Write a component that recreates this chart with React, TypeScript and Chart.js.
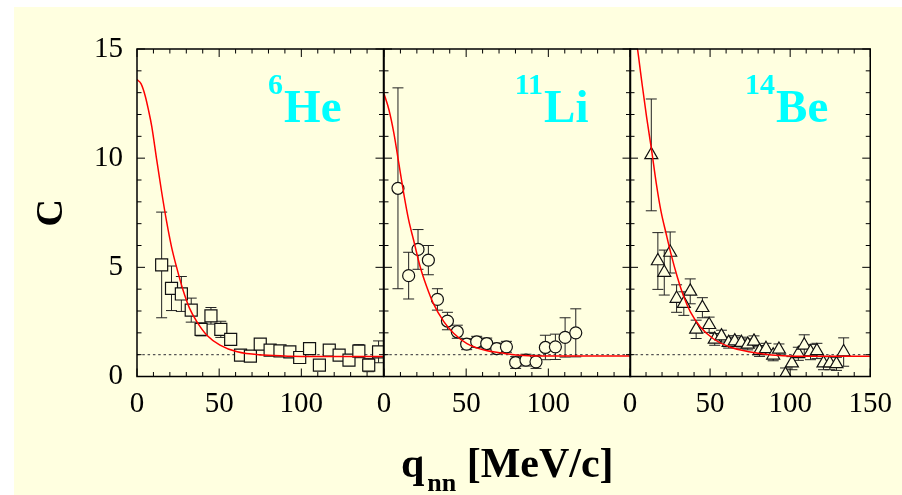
import React, { useEffect, useRef } from 'react';
import { Chart, registerables } from 'chart.js';

Chart.register(...registerables);

// ---------------- data ----------------
const X_MIN = 0;
const X_MAX = 150;
const Y_MIN = 0;
const Y_MAX = 15;
const X_TICK_LABELS = [0, 50, 100, 150];
const Y_TICK_LABELS = [0, 5, 10, 15];
const REFERENCE_LEVEL = 1;

const heQ = [15, 21, 27, 33, 39, 45, 51, 57, 63, 69, 75, 81, 87, 93, 99, 105, 111, 117, 123, 129, 135, 141, 147];
const heC = [5.11, 4.04, 3.78, 3.04, 2.16, 2.78, 2.16, 1.7, 0.98, 0.93, 1.48, 1.21, 1.17, 1.13, 0.87, 1.28, 0.52, 1.21, 0.98, 0.75, 1.16, 0.52, 1.13];
const heErr = [2.42, 1.02, 0.8, 0.55, 0.3, 0.38, 0.37, 0.25, 0.2, 0.2, 0.2, 0.2, 0.2, 0.2, 0.2, 0.2, 0.2, 0.2, 0.2, 0.25, 0.3, 0.3, 0.5];
const heCurveQ = [0, 2.5, 5, 7, 9, 12, 15, 18, 21, 24, 28, 32, 36.5, 42.5, 50.5, 61, 77, 93, 110, 130, 150];
const heCurveC = [13.6, 13.4, 12.85, 12.2, 11.45, 9.92, 8.45, 7.1, 5.94, 5.03, 3.96, 3.12, 2.5, 1.89, 1.44, 1.13, 0.98, 0.93, 0.92, 0.92, 0.92];

const liQ = [8.5, 15, 20.7, 27, 32.5, 38.6, 44.6, 50.3, 56.4, 62.5, 68.6, 74.5, 80.1, 86.4, 92.5, 98.2, 104.3, 110.2, 116.7];
const liC = [8.62, 4.62, 5.82, 5.33, 3.53, 2.54, 2.05, 1.48, 1.59, 1.51, 1.28, 1.36, 0.64, 0.75, 0.67, 1.33, 1.36, 1.79, 2.0];
const liErr = [4.6, 1.07, 0.91, 0.67, 0.49, 0.4, 0.3, 0.25, 0.25, 0.25, 0.25, 0.25, 0.27, 0.27, 0.3, 0.56, 0.58, 0.9, 1.1];
const liCurveQ = [0, 3, 6, 9, 12, 15, 18, 22, 26, 30, 36.5, 42.5, 50.5, 61, 73, 85, 100, 120, 150];
const liCurveC = [12.95, 12.22, 11.15, 9.77, 8.39, 7.17, 6.25, 5.03, 4.11, 3.35, 2.5, 1.97, 1.51, 1.21, 1.06, 0.96, 0.94, 0.94, 0.94];

const beQ = [13.3, 17.4, 21.4, 25.1, 29.1, 33.6, 37.6, 41.3, 45.2, 49.4, 52.9, 57.1, 61.6, 65.4, 69.5, 73.5, 77.4, 80.9, 84.9, 89.4, 93.0, 97.1, 101.1, 105.1, 108.8, 112.7, 116.7, 120.8, 124.8, 128.9, 133.4];
const beC = [10.15, 5.29, 4.76, 5.68, 3.57, 3.34, 3.9, 2.16, 3.15, 2.37, 1.7, 1.85, 1.55, 1.62, 1.55, 1.47, 1.61, 1.17, 1.27, 0.97, 1.24, 0.09, 0.61, 1.04, 1.43, 1.12, 1.17, 0.61, 0.61, 0.58, 1.12];
const beErr = [2.56, 1.3, 1.03, 0.94, 0.63, 0.54, 0.57, 0.42, 0.46, 0.35, 0.27, 0.27, 0.25, 0.25, 0.25, 0.25, 0.25, 0.25, 0.25, 0.25, 0.25, 0.3, 0.3, 0.3, 0.48, 0.35, 0.35, 0.3, 0.3, 0.3, 0.65];
const beCurveQ = [0, 2.5, 4.6, 7.2, 10.3, 13.3, 16.4, 19.4, 22.5, 25.5, 29.5, 33.6, 37.7, 43.8, 51.8, 62, 74.2, 88.4, 102.5, 120, 150];
const beCurveC = [16.5, 16.0, 15.05, 13.59, 11.91, 10.46, 8.85, 7.55, 6.56, 5.64, 4.57, 3.65, 2.96, 2.28, 1.74, 1.36, 1.13, 0.98, 0.93, 0.93, 0.93];

const PANEL_NAMES = ['He', 'Li', 'Be'];
const PANEL_MASS = ['6', '11', '14'];
const Y_TITLE = 'C';
const X_TITLE_MAIN = 'q';
const X_TITLE_SUB = 'nn';
const X_TITLE_REST = ' [MeV/c]';

// ---------------- styles / layout ----------------
const BG = '#FFFFE0';
const SERIF = "'Liberation Serif', 'Times New Roman', serif";
const PAGE_W = 902;
const PAGE_H = 495;
const AREA_TOP = 49;
const AREA_BOTTOM = 376.5;

const LAYOUTS = [
  { canvasLeft: 0, canvasWidth: 400, yWidth: 137, padRight: 16.5 },
  { canvasLeft: 363.5, canvasWidth: 290, yWidth: 20, padRight: 23.5 },
  { canvasLeft: 610, canvasWidth: 292, yWidth: 20, padRight: 25.5 },
];

const panelPlugin = {
  id: 'panel',
  beforeDatasetsDraw(chart: any) {
    const { ctx, chartArea: a, scales } = chart;
    const x = scales.x;
    const y = scales.y;
    ctx.save();
    ctx.beginPath();
    ctx.rect(a.left, a.top, a.right - a.left, a.bottom - a.top);
    ctx.clip();
    // dotted reference line
    const yr = y.getPixelForValue(REFERENCE_LEVEL);
    ctx.setLineDash([2.5, 2.8]);
    ctx.strokeStyle = '#555';
    ctx.lineWidth = 1.2;
    ctx.beginPath();
    ctx.moveTo(a.left, yr);
    ctx.lineTo(a.right, yr);
    ctx.stroke();
    ctx.setLineDash([]);
    // error bars
    ctx.strokeStyle = '#222';
    ctx.lineWidth = 1;
    chart.data.datasets.forEach((ds: any) => {
      if (!ds.yErr) return;
      ds.data.forEach((p: any, j: number) => {
        const e = ds.yErr[j];
        const px = x.getPixelForValue(p.x);
        const y1 = y.getPixelForValue(p.y + e);
        const y2 = y.getPixelForValue(p.y - e);
        ctx.beginPath();
        ctx.moveTo(px, y1);
        ctx.lineTo(px, y2);
        ctx.moveTo(px - 5.5, y1);
        ctx.lineTo(px + 5.5, y1);
        ctx.moveTo(px - 5.5, y2);
        ctx.lineTo(px + 5.5, y2);
        ctx.stroke();
      });
    });
    ctx.restore();
  },
  afterDatasetsDraw(chart: any) {
    const { ctx, chartArea: a, scales } = chart;
    const x = scales.x;
    const y = scales.y;
    ctx.save();
    ctx.strokeStyle = '#000';
    ctx.lineWidth = 1;
    ctx.beginPath();
    x.ticks.forEach((t: any) => {
      const px = x.getPixelForValue(t.value);
      const len = t.value % 50 === 0 ? 8 : 4.5;
      ctx.moveTo(px, a.bottom);
      ctx.lineTo(px, a.bottom - len);
      ctx.moveTo(px, a.top);
      ctx.lineTo(px, a.top + len);
    });
    y.ticks.forEach((t: any) => {
      const py = y.getPixelForValue(t.value);
      const len = t.value % 5 === 0 ? 8 : 4.5;
      ctx.moveTo(a.left, py);
      ctx.lineTo(a.left + len, py);
      ctx.moveTo(a.right, py);
      ctx.lineTo(a.right - len, py);
    });
    ctx.stroke();
    ctx.lineWidth = 1.5;
    ctx.strokeRect(a.left, a.top, a.right - a.left, a.bottom - a.top);
    ctx.restore();
  },
  afterDraw(chart: any, _args: any, opts: any) {
    const { ctx, chartArea: a } = chart;
    ctx.save();
    // isotope label
    ctx.fillStyle = '#00FFFF';
    ctx.textBaseline = 'alphabetic';
    ctx.textAlign = 'left';
    const mainFont = `bold 47px ${SERIF}`;
    const supFont = `bold 30px ${SERIF}`;
    ctx.font = mainFont;
    const wMain = ctx.measureText(opts.name).width;
    ctx.font = supFont;
    const wSup = ctx.measureText(opts.mass).width;
    const right = a.right - 42;
    const base = a.top + 72.5;
    const x0 = right - wMain - wSup - 1;
    ctx.fillText(opts.mass, x0, base - 28);
    ctx.font = mainFont;
    ctx.fillText(opts.name, x0 + wSup + 1, base);

    ctx.fillStyle = '#000';
    if (opts.yTitle) {
      ctx.save();
      ctx.translate(a.left - 84.5, (a.top + a.bottom) / 2);
      ctx.rotate(-Math.PI / 2);
      ctx.font = `bold 38px ${SERIF}`;
      ctx.textAlign = 'center';
      ctx.textBaseline = 'middle';
      ctx.fillText(Y_TITLE, 0, 0);
      ctx.restore();
    }
    if (opts.xTitle) {
      const bigFont = `bold 42px ${SERIF}`;
      const subFont = `bold 26px ${SERIF}`;
      ctx.font = bigFont;
      const wq = ctx.measureText(X_TITLE_MAIN).width;
      const wr = ctx.measureText(X_TITLE_REST).width;
      ctx.font = subFont;
      const wn = ctx.measureText(X_TITLE_SUB).width;
      const gap = 3;
      const total = wq + gap + wn + wr;
      const cx = (a.left + a.right) / 2;
      let xs = cx - total / 2;
      const b = a.bottom + 100.5;
      ctx.textAlign = 'left';
      ctx.textBaseline = 'alphabetic';
      ctx.font = bigFont;
      ctx.fillText(X_TITLE_MAIN, xs, b);
      xs += wq + gap;
      ctx.font = subFont;
      ctx.fillText(X_TITLE_SUB, xs, b + 14);
      xs += wn;
      ctx.font = bigFont;
      ctx.fillText(X_TITLE_REST, xs, b);
    }
    ctx.restore();
  },
};

const PANEL_DATA = [
  { q: heQ, c: heC, err: heErr, cq: heCurveQ, cc: heCurveC, style: 'rect', radius: 8.5 },
  { q: liQ, c: liC, err: liErr, cq: liCurveQ, cc: liCurveC, style: 'circle', radius: 6 },
  { q: beQ, c: beC, err: beErr, cq: beCurveQ, cc: beCurveC, style: 'triangle', radius: 7.5 },
];

function makeConfig(i: number): any {
  const p = PANEL_DATA[i];
  const lay = LAYOUTS[i];
  const lastPanel = i === PANEL_DATA.length - 1;
  return {
    type: 'scatter',
    data: {
      datasets: [
        {
          label: 'fit',
          data: p.cq.map((q, k) => ({ x: q, y: p.cc[k] })),
          showLine: true,
          borderColor: '#ff0000',
          borderWidth: 1.5,
          pointRadius: 0,
          cubicInterpolationMode: 'monotone',
          order: 0,
        },
        {
          label: PANEL_NAMES[i],
          data: p.q.map((q, k) => ({ x: q, y: p.c[k] })),
          yErr: p.err,
          showLine: false,
          pointStyle: p.style,
          pointRadius: p.radius,
          pointBackgroundColor: BG,
          pointBorderColor: '#111',
          pointBorderWidth: 1.2,
          order: 1,
        },
      ],
    },
    options: {
      responsive: false,
      animation: false,
      events: [],
      layout: { padding: { left: 0, right: lay.padRight, top: AREA_TOP, bottom: 0 } },
      plugins: {
        legend: { display: false },
        tooltip: { enabled: false },
        panel: { name: PANEL_NAMES[i], mass: PANEL_MASS[i], yTitle: i === 0, xTitle: i === 1 },
      },
      scales: {
        x: {
          type: 'linear',
          min: X_MIN,
          max: X_MAX,
          grid: { display: false, drawTicks: false },
          border: { display: false },
          ticks: {
            stepSize: 10,
            autoSkip: false,
            maxRotation: 0,
            padding: 10,
            color: '#000',
            font: { family: SERIF, size: 29 },
            callback: (v: number) =>
              X_TICK_LABELS.includes(v) && (v !== X_MAX || lastPanel) ? String(v) : '',
          },
          afterFit: (s: any) => {
            s.height = PAGE_H - AREA_BOTTOM;
          },
        },
        y: {
          type: 'linear',
          min: Y_MIN,
          max: Y_MAX,
          grid: { display: false, drawTicks: false },
          border: { display: false },
          ticks: {
            display: i === 0,
            stepSize: 1,
            autoSkip: false,
            padding: 14,
            color: '#000',
            font: { family: SERIF, size: 29 },
            callback: (v: number) => (Y_TICK_LABELS.includes(v) ? String(v) : ''),
          },
          afterFit: (s: any) => {
            s.width = lay.yWidth;
          },
        },
      },
    },
    plugins: [panelPlugin],
  };
}

function Panel({ index }: { index: number }) {
  const ref = useRef<HTMLCanvasElement | null>(null);
  const lay = LAYOUTS[index];
  useEffect(() => {
    if (!ref.current) return;
    const chart = new Chart(ref.current, makeConfig(index));
    return () => chart.destroy();
  }, [index]);
  return (
    <canvas
      ref={ref}
      width={lay.canvasWidth}
      height={PAGE_H}
      style={{ position: 'absolute', left: lay.canvasLeft, top: 0, width: lay.canvasWidth, height: PAGE_H }}
    />
  );
}

export default function App() {
  return (
    <div
      style={{
        position: 'absolute',
        left: 0,
        top: 0,
        width: PAGE_W,
        height: PAGE_H,
        background: '#ffffff',
        overflow: 'hidden',
      }}
    >
      <div style={{ position: 'absolute', left: 14, top: 7, right: 0, bottom: 0, background: BG }} />
      {PANEL_DATA.map((_, i) => (
        <Panel key={i} index={i} />
      ))}
    </div>
  );
}
